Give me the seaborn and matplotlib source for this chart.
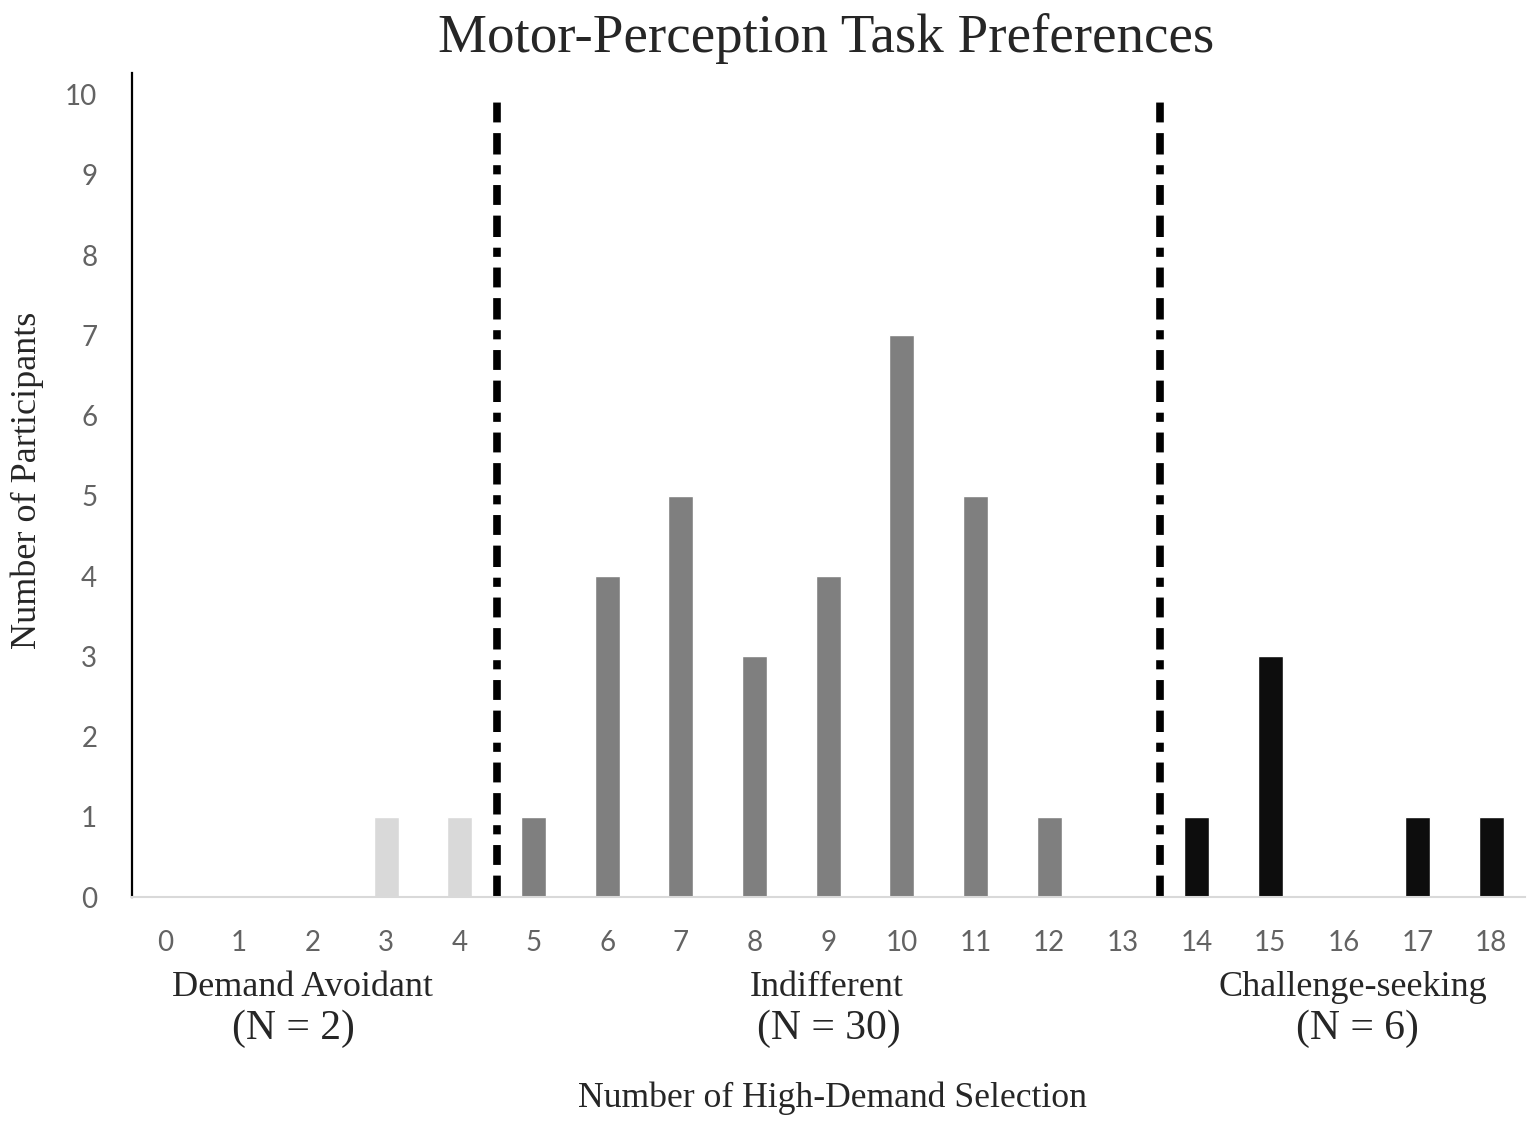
import pandas as pd
import numpy as np
import matplotlib.pyplot as plt
import seaborn as sns

# values
selections = list(range(19))
participants = [0, 0, 0, 1, 1, 1, 4, 5, 3, 4, 7, 5, 1, 0, 1, 3, 0, 1, 1]
groups = ['Avoidant'] * 5 + ['Indifferent'] * 9 + ['Seeking'] * 5
group_colors = {'Avoidant': '#d9d9d9', 'Indifferent': '#7f7f7f', 'Seeking': '#0d0d0d'}
cutoffs = [4.5, 13.5]
group_names = ['Demand Avoidant', 'Indifferent', 'Challenge-seeking']
group_counts = ['(N = 2)', '(N = 30)', '(N = 6)']
name_x = [1.87, 8.98, 16.12]
count_x = [1.74, 9.01, 16.19]

data = pd.DataFrame({'sel': selections, 'n': participants, 'group': groups})

sns.set_style('white')
serif = ['Liberation Serif', 'DejaVu Serif']
tick_font = ['Lato', 'DejaVu Sans']

fig = plt.figure(figsize=(15.36, 11.26), dpi=100)
ax = fig.add_axes([132 / 1536, 229 / 1126, (1525 - 132) / 1536, (897 - 73) / 1126])

sns.barplot(data=data, x='sel', y='n', hue='group', palette=group_colors,
            dodge=False, width=0.34, legend=False, ax=ax, saturation=1)

# cut-off lines between the groups
for c in cutoffs:
    ax.plot([c, c], [0, 10], color='black', lw=5.5,
            dashes=(2.8, 1.4, 2.6, 1.4, 1.2, 1.4),
            solid_capstyle='butt', dash_capstyle='butt')

ax.set_xlim(-0.45, 18.46)
ax.set_ylim(0, 10.27)
ax.set_yticks(range(11))
ax.set_xticks(selections)
ax.tick_params(axis='both', length=0, labelsize=20, labelcolor='#636363')
ax.tick_params(axis='y', pad=25)
ax.tick_params(axis='x', pad=24)
for lab in ax.get_xticklabels() + ax.get_yticklabels():
    lab.set_family(tick_font)
ax.set_xlabel('')
ax.set_ylabel('')

for s in ['top', 'right']:
    ax.spines[s].set_visible(False)
ax.spines['left'].set_color('black')
ax.spines['left'].set_linewidth(1.6)
ax.spines['bottom'].set_color('#d9d9d9')
ax.spines['bottom'].set_linewidth(1.5)

# group labels under the tick labels
trans = ax.get_xaxis_transform()
for nx, cx, name, cnt in zip(name_x, count_x, group_names, group_counts):
    ax.text(nx, (897 - 988) / 824, name, transform=trans, ha='center', va='center',
            fontsize=26, family=serif)
    ax.text(cx, (897 - 1029) / 824, cnt, transform=trans, ha='center', va='center',
            fontsize=30, family=serif)

fig.text(832 / 1536, 1 - 1098 / 1126, 'Number of High-Demand Selection',
         ha='center', va='center', fontsize=25.7, family=serif)
fig.text(27 / 1536, 1 - 480 / 1126, 'Number of Participants', rotation=90,
         ha='center', va='center', fontsize=26, family=serif)
fig.text(826 / 1536, 1 - 38 / 1126, 'Motor-Perception Task Preferences',
         ha='center', va='center', fontsize=39.6, family=serif)

fig.savefig('out.png', dpi=100)
